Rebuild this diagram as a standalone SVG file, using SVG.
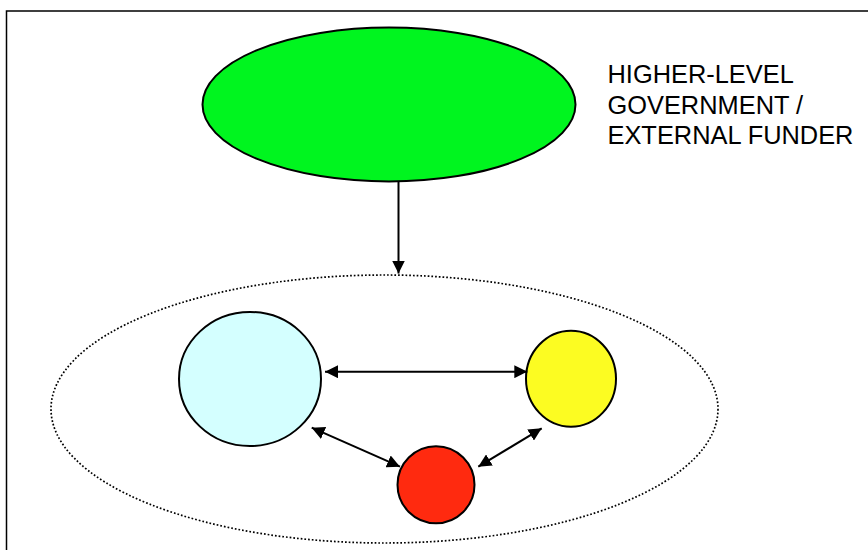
<svg xmlns="http://www.w3.org/2000/svg" width="868" height="550" viewBox="0 0 868 550">
<defs>
<marker id="ah" viewBox="0 0 10 10" refX="10" refY="5" markerWidth="13" markerHeight="13" markerUnits="userSpaceOnUse" orient="auto-start-reverse">
<path d="M0,0 L10,5 L0,10 Z" fill="#000"/>
</marker>
</defs>
<style>
.node{stroke:#000;stroke-width:2}
.conn{stroke:#000;stroke-width:2;fill:none}
.label{font-family:"Liberation Sans",Arial,sans-serif;font-size:25.4px;fill:#000}
</style>
<rect x="0" y="0" width="868" height="550" fill="#fff"/>
<rect x="6.5" y="11" width="900" height="600" fill="none" stroke="#000" stroke-width="1.5"/>
<g id="community">
<ellipse cx="384.5" cy="409" rx="333.5" ry="134" fill="none" stroke="#000" stroke-width="1.7" stroke-dasharray="1.7 2"/>
</g>
<g id="funder">
<ellipse class="node" cx="389" cy="104.5" rx="186.5" ry="77" fill="#00f51f"/>
</g>
<g id="funder-label">
<text class="label" x="607.5" y="83">HIGHER-LEVEL</text>
<text class="label" x="607.5" y="113.5">GOVERNMENT /</text>
<text class="label" x="607.5" y="144">EXTERNAL FUNDER</text>
</g>
<g id="blue">
<ellipse class="node" cx="250" cy="379" rx="71" ry="67" fill="#d4ffff"/>
</g>
<g id="yellow">
<ellipse class="node" cx="571" cy="378.7" rx="45" ry="48" fill="#fcfc22"/>
</g>
<g id="red">
<circle class="node" cx="436" cy="484.7" r="38.5" fill="#ff2a0f"/>
</g>
<g id="connectors">
<line class="conn" x1="398.5" y1="182" x2="398.5" y2="273.5" marker-end="url(#ah)"/>
<line class="conn" x1="325" y1="371.7" x2="527.3" y2="371.7" marker-start="url(#ah)" marker-end="url(#ah)"/>
<line class="conn" x1="311.7" y1="427.7" x2="400" y2="466.7" marker-start="url(#ah)" marker-end="url(#ah)"/>
<line class="conn" x1="478.3" y1="466.7" x2="541.7" y2="428.3" marker-start="url(#ah)" marker-end="url(#ah)"/>
</g>
</svg>
